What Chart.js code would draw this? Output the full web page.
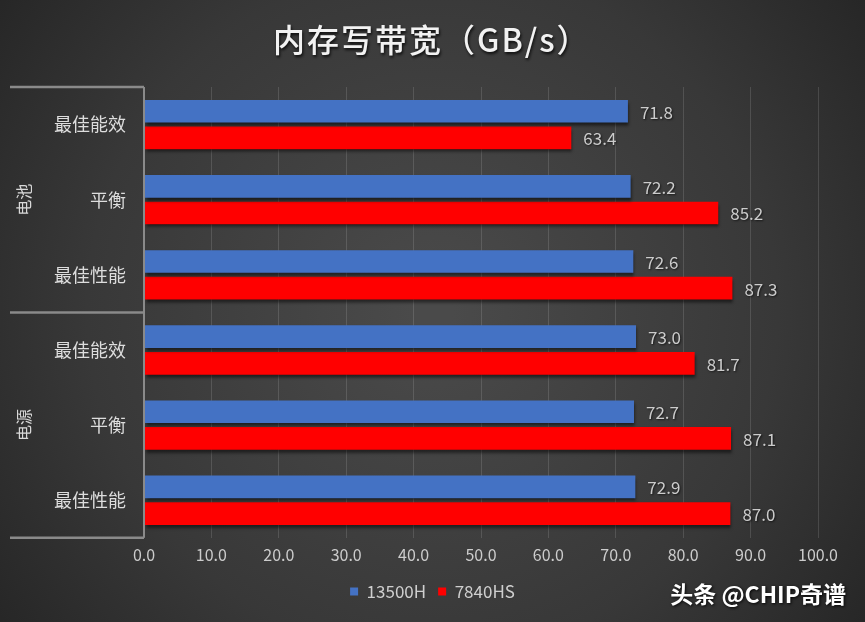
<!DOCTYPE html>
<html><head><meta charset="utf-8">
<script src="https://cdn.jsdelivr.net/npm/chart.js@4/dist/chart.umd.min.js"></script>
<style>
html,body{margin:0;padding:0;background:#333;}
#wrap{width:865px;height:622px;position:relative;}
</style></head>
<body><div id="wrap"><canvas id="c" width="865" height="622"></canvas></div>
<script>
const categories = ['最佳能效','平衡','最佳性能','最佳能效','平衡','最佳性能'];
const groups = ['电池','电源'];
const series13500H = [71.8, 72.2, 72.6, 73.0, 72.7, 72.9];
const series7840HS = [63.4, 85.2, 87.3, 81.7, 87.1, 87.0];
const seriesNames = ['13500H','7840HS'];
const xTicks = [0,10,20,30,40,50,60,70,80,90,100];
const titleText = '内存写带宽（GB/s）';
const watermark = '头条 @CHIP奇谱';

const FONT = '"Noto Sans CJK SC", "Noto Sans", sans-serif';

const bgPlugin = {
  id:'bg',
  beforeDraw(chart){
    const {ctx,width,height} = chart;
    ctx.save();
    const g = ctx.createRadialGradient(width*0.5,height*0.5,20,width*0.5,height*0.5,width*0.65);
    g.addColorStop(0,'#4a4a4a');
    g.addColorStop(0.6,'#383838');
    g.addColorStop(1,'#242424');
    ctx.fillStyle = g;
    ctx.fillRect(0,0,width,height);
    // title
    ctx.font = '500 32px ' + FONT;
    try { ctx.letterSpacing = '2px'; } catch(e){}
    ctx.fillStyle = '#f2f2f2';
    ctx.textAlign = 'left';
    ctx.textBaseline = 'middle';
    ctx.shadowColor = 'rgba(0,0,0,0.8)';
    ctx.shadowOffsetX = 1; ctx.shadowOffsetY = 2; ctx.shadowBlur = 3;
    ctx.fillText(titleText, 273, 40);
    try { ctx.letterSpacing = '0px'; } catch(e){}
    ctx.restore();
  }
};

const decoPlugin = {
  id:'deco',
  beforeDatasetsDraw(chart){
    const ctx = chart.ctx;
    ctx.save();
    ctx.shadowColor = 'rgba(0,0,0,0.55)';
    ctx.shadowOffsetX = 1; ctx.shadowOffsetY = 3; ctx.shadowBlur = 3;
  },
  afterDatasetsDraw(chart){
    const ctx = chart.ctx;
    ctx.restore();
    const ca = chart.chartArea;
    const ys = chart.scales.y;
    // value labels
    ctx.save();
    ctx.font = '17px ' + FONT;
    ctx.fillStyle = '#cccccc';
    ctx.textAlign = 'left';
    ctx.textBaseline = 'middle';
    ctx.shadowColor = 'rgba(0,0,0,0.6)';
    ctx.shadowOffsetX = 1; ctx.shadowOffsetY = 1; ctx.shadowBlur = 2;
    chart.data.datasets.forEach((ds,di)=>{
      const meta = chart.getDatasetMeta(di);
      meta.data.forEach((bar,i)=>{
        ctx.fillText(ds.data[i].toFixed(1), bar.x + 12, bar.y + 1);
      });
    });
    ctx.restore();
    // group separators and labels
    ctx.save();
    const step = (ys.getPixelForValue(1) - ys.getPixelForValue(0));
    const bounds = [ys.getPixelForValue(0)-step/2, ys.getPixelForValue(3)-step/2, ys.getPixelForValue(5)+step/2];
    ctx.strokeStyle = '#8a8a8a';
    ctx.lineWidth = 2.5;
    bounds.forEach(b=>{
      ctx.beginPath(); ctx.moveTo(10,b); ctx.lineTo(ca.left,b); ctx.stroke();
    });
    ctx.lineWidth = 2;
    ctx.beginPath(); ctx.moveTo(ca.left, bounds[0]); ctx.lineTo(ca.left, bounds[2]); ctx.stroke();
    ctx.font = '16px ' + FONT;
    ctx.fillStyle = '#d8d8d8';
    ctx.textAlign = 'center';
    ctx.textBaseline = 'middle';
    groups.forEach((gname,gi)=>{
      const cy = (bounds[gi]+bounds[gi+1])/2;
      ctx.save();
      ctx.translate(24, cy);
      ctx.rotate(-Math.PI/2);
      ctx.fillText(gname,0,0);
      ctx.restore();
    });
    // watermark
    ctx.font = 'bold 23px ' + FONT;
    ctx.textAlign = 'right';
    ctx.shadowColor = 'rgba(0,0,0,0.9)';
    ctx.shadowOffsetX = 1; ctx.shadowOffsetY = 1; ctx.shadowBlur = 3;
    ctx.fillStyle = '#ffffff';
    ctx.fillText(watermark, 846, 594);
    ctx.restore();
  }
};

new Chart(document.getElementById('c'), {
  type:'bar',
  data:{
    labels: categories,
    datasets:[
      {label: seriesNames[0], data: series13500H, backgroundColor:'#4472C4', categoryPercentage:0.71, barPercentage:0.85},
      {label: seriesNames[1], data: series7840HS, backgroundColor:'#FF0000', categoryPercentage:0.71, barPercentage:0.85}
    ]
  },
  options:{
    indexAxis:'y',
    responsive:false,
    animation:false,
    layout:{padding:{left:0,right:0,top:87,bottom:12}},
    plugins:{
      title:{display:false},
      legend:{position:'bottom',labels:{color:'#cfcfcf',font:{family:FONT,size:17},boxWidth:8,boxHeight:8,padding:12}},
      tooltip:{enabled:false}
    },
    scales:{
      x:{
        min:0,max:100,
        afterBuildTicks(s){ s.ticks = xTicks.map(v=>({value:v})); },
        afterFit(s){ s.height -= 2; },
        ticks:{color:'#cccccc',font:{family:FONT,size:16},padding:8,callback:v=>Number(v).toFixed(1)},
        grid:{color:'rgba(255,255,255,0.13)',drawTicks:false},
        border:{display:false}
      },
      y:{
        afterFit(s){ s.width = 144; },
        ticks:{color:'#dddddd',font:{family:FONT,size:18},padding:10},
        grid:{display:false},
        border:{display:false}
      },
      yR:{
        type:'category',
        position:'right',
        afterFit(s){ s.width = 47; },
        ticks:{display:false},
        grid:{display:false},
        border:{display:false}
      }
    }
  },
  plugins:[bgPlugin, decoPlugin]
});
</script>
</body></html>
